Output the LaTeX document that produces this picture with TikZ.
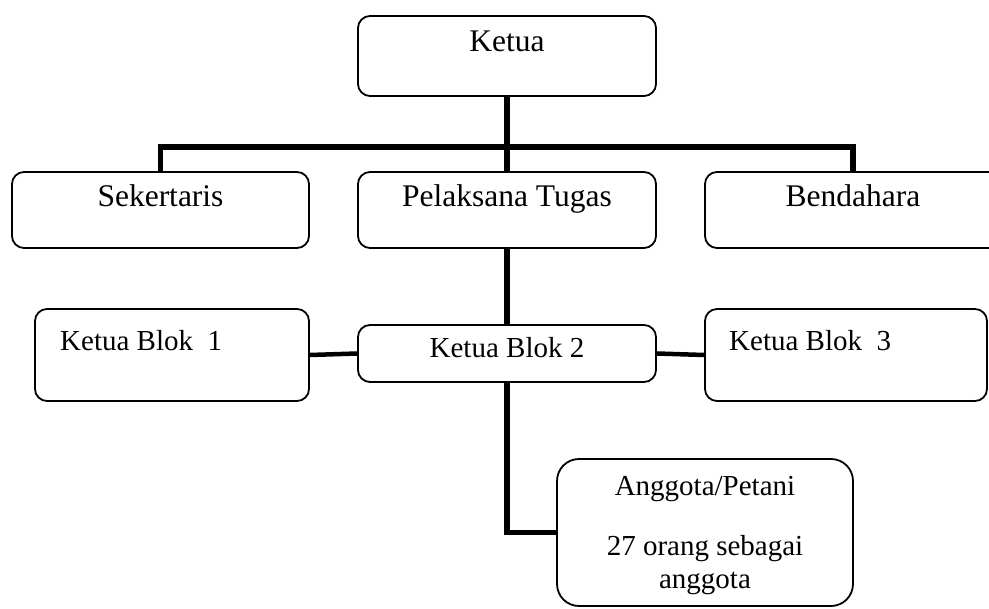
\documentclass[tikz,border=0pt]{standalone}
\usepackage{fontspec}
\setmainfont{Liberation Serif}
\usetikzlibrary{calc}
\begin{document}
\begin{tikzpicture}[x=1pt,y=-1pt,
  box/.style={draw, line width=1.8pt, rounded corners=12pt, inner sep=0pt},
  bigbox/.style={box, rounded corners=22pt},
  conn/.style={line width=5.5pt},
  thinconn/.style={line width=4.5pt},
  big/.style={font=\fontsize{31.5}{36}\selectfont, inner sep=0pt, anchor=base},
  mid/.style={font=\fontsize{29}{34}\selectfont, inner sep=0pt, anchor=base},
  midleft/.style={mid, anchor=base west}]
\path[use as bounding box, clip] (0,0) rectangle (989,609);

% boxes
\node[box, minimum width=298pt, minimum height=80pt] (ketua) at (507,56) {};
\node[box, minimum width=297pt, minimum height=76pt] (sek) at (160.5,210) {};
\node[box, minimum width=298pt, minimum height=76pt] (pel) at (507,210) {};
\node[box, minimum width=296pt, minimum height=76pt] (ben) at (853,210) {};
\node[box, minimum width=274pt, minimum height=92pt] (b1) at (172,355) {};
\node[box, minimum width=298pt, minimum height=57pt] (b2) at (507,353.5) {};
\node[box, minimum width=282pt, minimum height=92pt] (b3) at (846,355) {};
\node[bigbox, minimum width=296pt, minimum height=147pt] (ang) at (705,532.5) {};

% labels
\node[big] (tketua) at (507,52) {Ketua};
\node[big] (tsek) at (160.5,207) {Sekertaris};
\node[big] (tpel) at (507,207) {Pelaksana Tugas};
\node[big] (tben) at (853,207) {Bendahara};
\node[midleft] (tb1) at (60,351) {Ketua Blok\ \ 1};
\node[mid] (tb2) at (507,358) {Ketua Blok 2};
\node[midleft] (tb3) at (729,351) {Ketua Blok\ \ 3};
\node[mid] (tang1) at (705,496) {Anggota/Petani};
\node[mid] (tang2) at (705,556) {27 orang sebagai};
\node[mid] (tang3) at (705,589) {anggota};

% connectors
\coordinate (bus) at (507,147);
\draw[conn] (ketua.south) -- (pel.north);
\draw[conn] (sek.north) |- (bus) -| (ben.north);
\draw[conn] (pel.south) -- (b2.north);
\draw[conn] (b2.south) |- (ang.west);
\draw[thinconn] (b1.east) -- (b2.west);
\draw[thinconn] (b2.east) -- (b3.west);
\end{tikzpicture}
\end{document}
